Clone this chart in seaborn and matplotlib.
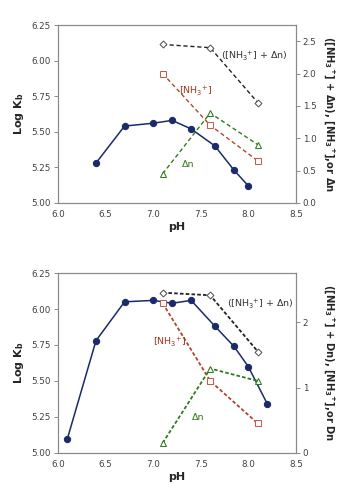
import matplotlib
matplotlib.use('Agg')
import matplotlib.pyplot as plt
import seaborn as sns

# top panel
ph_kb_top = [6.4, 6.7, 7.0, 7.2, 7.4, 7.65, 7.85, 8.0]
logkb_top = [5.28, 5.54, 5.56, 5.58, 5.52, 5.40, 5.23, 5.12]
ph_right = [7.1, 7.6, 8.1]
sum_top = [2.45, 2.40, 1.55]
nh3_top = [2.00, 1.20, 0.65]
dn_top = [0.45, 1.39, 0.90]

# bottom panel
ph_kb_bot = [6.1, 6.4, 6.7, 7.0, 7.2, 7.4, 7.65, 7.85, 8.0, 8.2]
logkb_bot = [5.10, 5.78, 6.05, 6.06, 6.04, 6.06, 5.88, 5.74, 5.60, 5.34]
sum_bot = [2.45, 2.41, 1.55]
nh3_bot = [2.29, 1.10, 0.45]
dn_bot = [0.15, 1.29, 1.10]

xticks = [6.0, 6.5, 7.0, 7.5, 8.0, 8.5]
yticks_left = [5.00, 5.25, 5.50, 5.75, 6.00, 6.25]

NAVY = '#1b2a6b'
RED = '#b5452c'
GREEN = '#2f7a1c'
GRAY = '#333333'
SPINE = '#8a8a8a'

sns.set_style('white')
plt.rcParams['font.family'] = ['DejaVu Sans']
plt.rcParams['mathtext.default'] = 'regular'


def style_ax(ax):
    for s in ax.spines.values():
        s.set_color(SPINE)
        s.set_linewidth(0.8)
    ax.tick_params(direction='out', length=3, width=0.7, color=SPINE,
                   labelsize=6.3, labelcolor='#404040', pad=2)


def panel(ax, ph_kb, logkb, s_vals, n_vals, d_vals, right_ticks, right_fmt,
          right_label, lab_pos, dash):
    sns.lineplot(x=ph_kb, y=logkb, ax=ax, color=NAVY, marker='o',
                 markersize=4.5, markeredgecolor=NAVY, linewidth=1.1)
    ax.set_xlim(6.0, 8.5)
    ax.set_ylim(5.0, 6.25)
    ax.set_xticks(xticks)
    ax.set_xticklabels([f'{v:.1f}' for v in xticks])
    ax.set_yticks(yticks_left)
    ax.set_yticklabels([f'{v:.2f}' for v in yticks_left])
    ax.set_xlabel('pH', fontsize=8, fontweight='bold', labelpad=2)
    ax.set_ylabel('Log K$_b$', fontsize=8, fontweight='bold', labelpad=4)

    ax2 = ax.twinx()
    lw = 1.0 if dash[0] > 2 else 1.3
    sns.lineplot(x=ph_right, y=s_vals, ax=ax2, color='#222222', marker='D',
                 markersize=3.5, markerfacecolor='white',
                 markeredgecolor='#555555', linestyle=(0, dash), linewidth=lw)
    sns.lineplot(x=ph_right, y=n_vals, ax=ax2, color=RED, marker='s',
                 markersize=4, markerfacecolor='white',
                 markeredgecolor='#c0604a', linestyle=(0, dash), linewidth=lw)
    sns.lineplot(x=ph_right, y=d_vals, ax=ax2, color=GREEN, marker='^',
                 markersize=4, markerfacecolor='white',
                 markeredgecolor=GREEN, linestyle=(0, dash), linewidth=lw)
    ax2.set_ylim(0, 2.75)
    ax2.set_yticks(right_ticks)
    ax2.set_yticklabels([right_fmt.format(v) for v in right_ticks])
    ax2.set_ylabel(right_label, fontsize=7.2, fontweight='bold', rotation=270,
                   labelpad=10)
    ax2.yaxis.set_label_coords(1.17, 0.5)
    style_ax(ax)
    style_ax(ax2)

    (sx, sy), (nx, ny), (dx, dy) = lab_pos
    ax2.text(sx, sy, '([NH$_3$$^{+}$] + Δn)', fontsize=6.8, color=GRAY)
    ax2.text(nx, ny, '[NH$_3$$^{+}$]', fontsize=6.8, color='#a0341c',
             ha='center')
    ax2.text(dx, dy, 'Δn', fontsize=6.8, color=GREEN, ha='center')


fig = plt.figure(figsize=(3.51, 5.01), dpi=100)
ax_top = fig.add_axes([0.165, 0.595, 0.678, 0.355])
ax_bot = fig.add_axes([0.165, 0.096, 0.678, 0.359])

panel(ax_top, ph_kb_top, logkb_top, sum_top, nh3_top, dn_top,
      [0.0, 0.5, 1.0, 1.5, 2.0, 2.5], '{:.1f}',
      '([NH$_3$$^{+}$] + Δn), [NH$_3$$^{+}$],or Δn',
      [(7.71, 2.22), (7.44, 1.68), (7.37, 0.56)], (3, 2))
panel(ax_bot, ph_kb_bot, logkb_bot, sum_bot, nh3_bot, dn_bot,
      [0, 1, 2], '{:.0f}',
      '([NH$_3$$^{+}$] + Dn), [NH$_3$$^{+}$],or Dn',
      [(7.78, 2.22), (7.17, 1.64), (7.47, 0.50)], (2, 1.2))

fig.savefig('out.png', dpi=100, facecolor='white')
